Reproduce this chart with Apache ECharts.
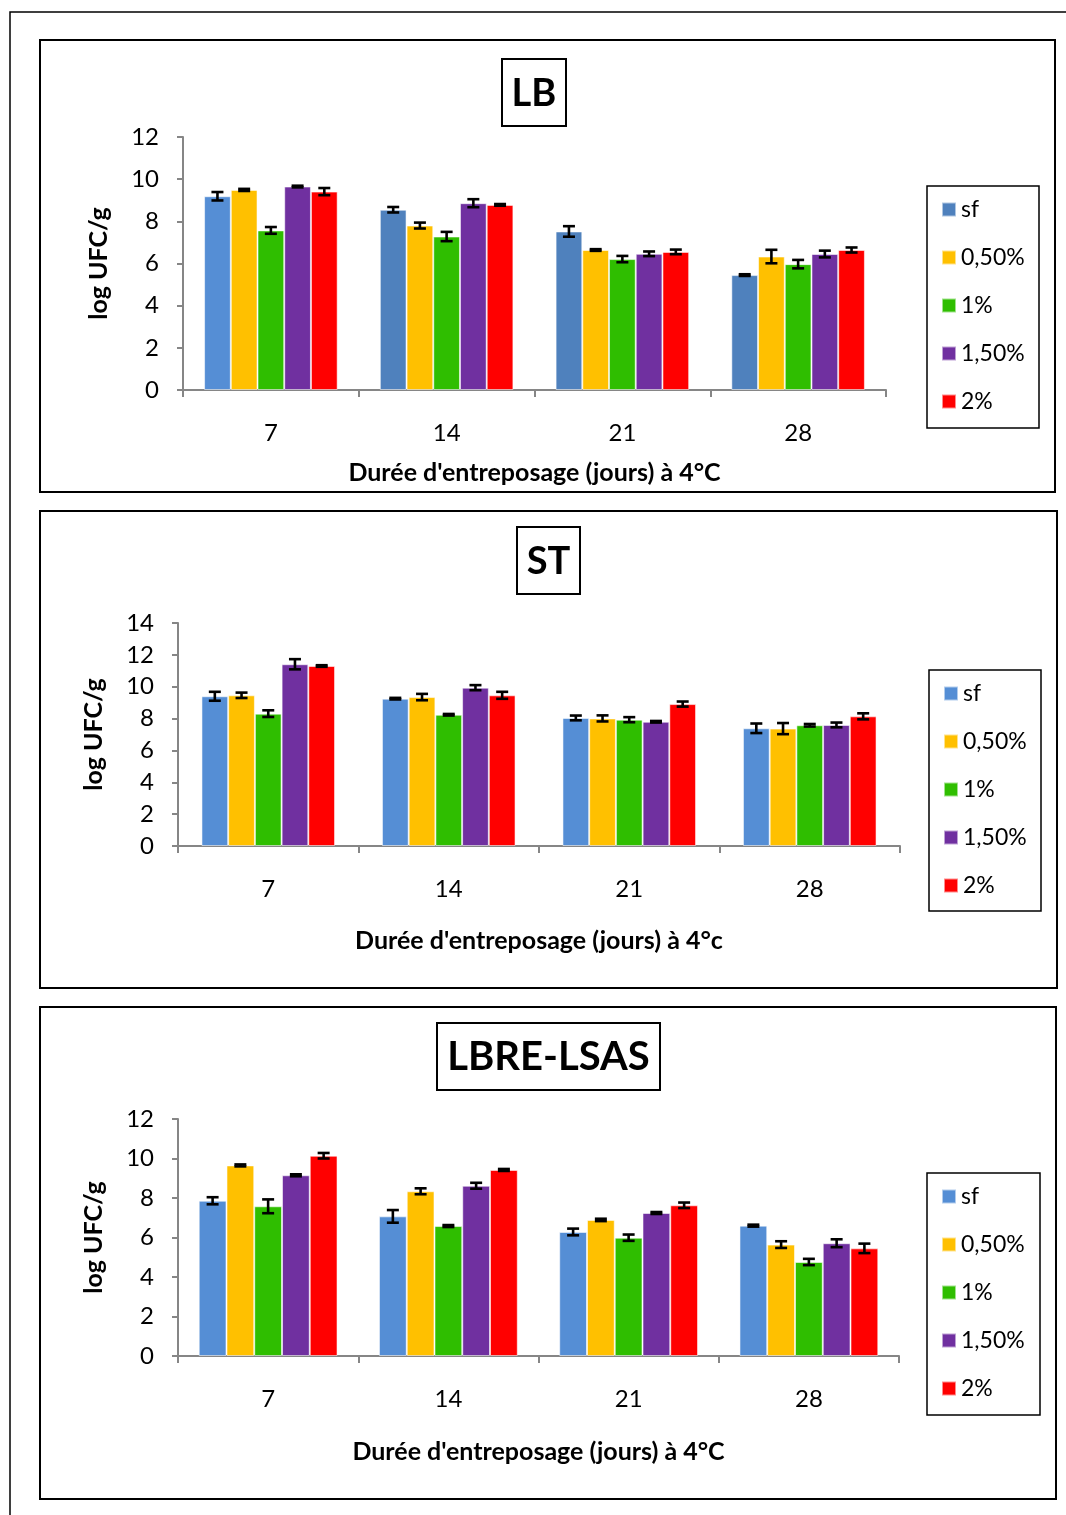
<!DOCTYPE html>
<html>
<head>
<meta charset="utf-8">
<title>log UFC/g</title>
<script src="https://cdn.jsdelivr.net/npm/echarts@6/dist/echarts.min.js"></script>
<style>
  html, body { margin: 0; padding: 0; background: #fff; }
  #chart { width: 1066px; height: 1515px; }
</style>
</head>
<body>
<div id="chart"></div>
<script>
// Storage days and treatment groups
const categories = ['7', '14', '21', '28'];
const treatments = ['sf', '0,50%', '1%', '1,50%', '2%'];

// LB counts (log UFC/g) and standard deviations
const lbSf = [9.19, 8.55, 7.52, 5.45];
const lb050 = [9.49, 7.80, 6.64, 6.33];
const lb1 = [7.57, 7.28, 6.21, 5.97];
const lb150 = [9.65, 8.86, 6.46, 6.45];
const lb2 = [9.41, 8.78, 6.55, 6.64];
const lbSfErr = [0.20, 0.13, 0.25, 0.04];
const lb050Err = [0.05, 0.14, 0.04, 0.32];
const lb1Err = [0.16, 0.22, 0.15, 0.20];
const lb150Err = [0.04, 0.19, 0.11, 0.16];
const lb2Err = [0.17, 0.04, 0.11, 0.12];

// ST counts
const stSf = [9.40, 9.25, 8.04, 7.39];
const st050 = [9.46, 9.35, 8.01, 7.37];
const st1 = [8.31, 8.24, 7.93, 7.58];
const st150 = [11.41, 9.94, 7.80, 7.60];
const st2 = [11.30, 9.46, 8.91, 8.14];
const stSfErr = [0.28, 0.05, 0.15, 0.30];
const st050Err = [0.17, 0.20, 0.19, 0.35];
const st1Err = [0.21, 0.05, 0.16, 0.08];
const st150Err = [0.32, 0.16, 0.05, 0.15];
const st2Err = [0.05, 0.22, 0.16, 0.19];

// LBRE-LSAS counts
const lrSf = [7.86, 7.07, 6.28, 6.60];
const lr050 = [9.65, 8.34, 6.89, 5.64];
const lr1 = [7.58, 6.58, 5.99, 4.76];
const lr150 = [9.15, 8.62, 7.24, 5.71];
const lr2 = [10.14, 9.42, 7.63, 5.45];
const lrSfErr = [0.18, 0.32, 0.17, 0.05];
const lr050Err = [0.05, 0.15, 0.06, 0.17];
const lr1Err = [0.35, 0.05, 0.16, 0.16];
const lr150Err = [0.05, 0.15, 0.05, 0.20];
const lr2Err = [0.14, 0.05, 0.14, 0.24];

// Y axis ranges
const yMax = [12, 14, 12];
const yStep = 2;

const FONT = 'Lato, "Open Sans", sans-serif';
const BLUE_DARK = '#4f81bd';
const BLUE = '#558ed5';
const palette = [BLUE, '#ffc000', '#2fbe00', '#7030a0', '#ff0000'];

const panels = [
  {
    key: 'LB', title: 'LB', titleSize: 38, xName: "Durée d'entreposage (jours) à 4°C",
    values: [lbSf, lb050, lb1, lb150, lb2],
    errors: [lbSfErr, lb050Err, lb1Err, lb150Err, lb2Err],
    sfColor: BLUE_DARK, sfItemColors: [BLUE, BLUE_DARK, BLUE_DARK, BLUE_DARK],
    grid: { left: 183, top: 137, width: 703, height: 253 },
    gap: 0.24, nameGapX: 70, labelMargin: 31,
    frame: [40, 40, 1015, 452],
    titleBox: [502, 59, 64, 67],
    legendBox: [927, 186, 112, 242], legendTop: 198
  },
  {
    key: 'ST', title: 'ST', titleSize: 38, xName: "Durée d'entreposage (jours) à 4°c",
    values: [stSf, st050, st1, st150, st2],
    errors: [stSfErr, st050Err, st1Err, st150Err, st2Err],
    sfColor: BLUE, sfItemColors: null,
    grid: { left: 178, top: 623, width: 722, height: 223 },
    gap: 0.26, nameGapX: 82, labelMargin: 31,
    frame: [40, 511, 1017, 477],
    titleBox: [517, 527, 63, 67],
    legendBox: [929, 670, 112, 241], legendTop: 682
  },
  {
    key: 'LR', title: 'LBRE-LSAS', titleSize: 40, xName: "Durée d'entreposage (jours) à 4°C",
    values: [lrSf, lr050, lr1, lr150, lr2],
    errors: [lrSfErr, lr050Err, lr1Err, lr150Err, lr2Err],
    sfColor: BLUE, sfItemColors: null,
    grid: { left: 178, top: 1119, width: 721, height: 237 },
    gap: 0.23, nameGapX: 83, labelMargin: 31,
    frame: [40, 1007, 1016, 492],
    titleBox: [437, 1023, 223, 67],
    legendBox: [927, 1173, 113, 242], legendTop: 1185
  }
];

const grids = [], xAxes = [], yAxes = [], series = [], legends = [], graphics = [];

// outer page frame
graphics.push({
  type: 'rect', shape: { x: 10, y: 12, width: 1080, height: 1530 },
  style: { fill: 'none', stroke: '#000', lineWidth: 1.5 }, silent: true, z: 0
});

panels.forEach((p, pi) => {
  grids.push(Object.assign({ containLabel: false }, p.grid));

  xAxes.push({
    type: 'category', gridIndex: pi, data: categories,
    axisLine: { lineStyle: { color: '#868686', width: 2 } },
    axisTick: { show: true, interval: 0, length: 7, alignWithLabel: false, lineStyle: { color: '#868686', width: 2 } },
    axisLabel: { color: '#000', fontSize: 24, fontFamily: FONT, margin: p.labelMargin },
    name: p.xName, nameLocation: 'middle', nameGap: p.nameGapX,
    nameTextStyle: { color: '#000', fontSize: 25, fontWeight: 'bold', fontFamily: FONT }
  });

  yAxes.push({
    type: 'value', gridIndex: pi, min: 0, max: yMax[pi], interval: yStep,
    axisLine: { show: true, lineStyle: { color: '#868686', width: 2 } },
    axisTick: { show: true, length: 6, lineStyle: { color: '#868686', width: 2 } },
    splitLine: { show: false },
    axisLabel: { color: '#000', fontSize: 24, fontFamily: FONT, margin: 24 },
    name: 'log UFC/g', nameLocation: 'middle', nameGap: 72, nameRotate: 90,
    nameTextStyle: { color: '#000', fontSize: 25, fontWeight: 'bold', fontFamily: FONT }
  });

  const legendNames = [];
  treatments.forEach((t, si) => {
    const name = p.key + '|' + t;
    legendNames.push(name);
    const color = si === 0 ? p.sfColor : palette[si];
    const data = p.values[si].map((v, ci) => {
      if (si === 0 && p.sfItemColors) {
        return { value: v, itemStyle: { color: p.sfItemColors[ci] } };
      }
      return v;
    });
    series.push({
      type: 'bar', name: name, xAxisIndex: pi, yAxisIndex: pi,
      data: data, barGap: '0%', barCategoryGap: Math.round(p.gap * 100) + '%',
      itemStyle: { color: color, borderColor: 'rgba(255,255,255,0.55)', borderWidth: 1 },
      emphasis: { disabled: true }, z: 2
    });
  });

  // error bars drawn at each bar's centre
  const errData = [];
  p.values.forEach((vals, si) => {
    vals.forEach((v, ci) => errData.push([ci, si, v, p.errors[si][ci]]));
  });
  const gap = p.gap;
  series.push({
    type: 'custom', name: p.key + '-err', xAxisIndex: pi, yAxisIndex: pi,
    data: errData, encode: { x: 0, y: 2 }, z: 5, silent: true,
    renderItem: function (params, api) {
      const ci = api.value(0), si = api.value(1), v = api.value(2), e = api.value(3);
      const band = api.size([1, 0])[0];
      const barW = band * (1 - gap) / treatments.length;
      const c = api.coord([ci, v]);
      const x = c[0] + (si - (treatments.length - 1) / 2) * barW;
      const yTop = api.coord([ci, v + e])[1];
      const yBot = api.coord([ci, v - e])[1];
      const hw = 6;
      const st = { stroke: '#000', lineWidth: 2.6 };
      return {
        type: 'group', children: [
          { type: 'line', shape: { x1: x, y1: yTop, x2: x, y2: yBot }, style: st },
          { type: 'line', shape: { x1: x - hw, y1: yTop, x2: x + hw, y2: yTop }, style: st },
          { type: 'line', shape: { x1: x - hw, y1: yBot, x2: x + hw, y2: yBot }, style: st }
        ]
      };
    }
  });

  legends.push({
    data: legendNames, orient: 'vertical', left: p.legendBox[0] + 14, top: p.legendTop,
    itemWidth: 14, itemHeight: 14, itemGap: 25, padding: 0, icon: 'rect',
    formatter: n => n.split('|')[1],
    textStyle: { color: '#000', fontSize: 23, fontFamily: FONT, lineHeight: 20, padding: [0, 0, 0, 0] },
    selectedMode: false
  });

  // panel frame
  graphics.push({
    type: 'rect', shape: { x: p.frame[0], y: p.frame[1], width: p.frame[2], height: p.frame[3] },
    style: { fill: 'none', stroke: '#000', lineWidth: 2 }, silent: true, z: 0
  });
  // legend frame
  graphics.push({
    type: 'rect', shape: { x: p.legendBox[0], y: p.legendBox[1], width: p.legendBox[2], height: p.legendBox[3] },
    style: { fill: 'none', stroke: '#000', lineWidth: 1.5 }, silent: true, z: 0
  });
  // boxed title
  const tb = p.titleBox;
  graphics.push({
    type: 'rect', shape: { x: tb[0], y: tb[1], width: tb[2], height: tb[3] },
    style: { fill: '#fff', stroke: '#000', lineWidth: 2 }, silent: true, z: 1
  });
  graphics.push({
    type: 'text', x: tb[0] + tb[2] / 2, y: tb[1] + tb[3] / 2 + 1, z: 2, silent: true,
    style: { text: p.title, fill: '#000', font: 'bold ' + p.titleSize + 'px ' + FONT, textAlign: 'center', textVerticalAlign: 'middle' }
  });
});

const chart = echarts.init(document.getElementById('chart'), null, { renderer: 'canvas' });
chart.setOption({
  backgroundColor: '#fff',
  animation: false,
  grid: grids,
  xAxis: xAxes,
  yAxis: yAxes,
  legend: legends,
  series: series,
  graphic: { elements: graphics }
});
</script>
</body>
</html>
